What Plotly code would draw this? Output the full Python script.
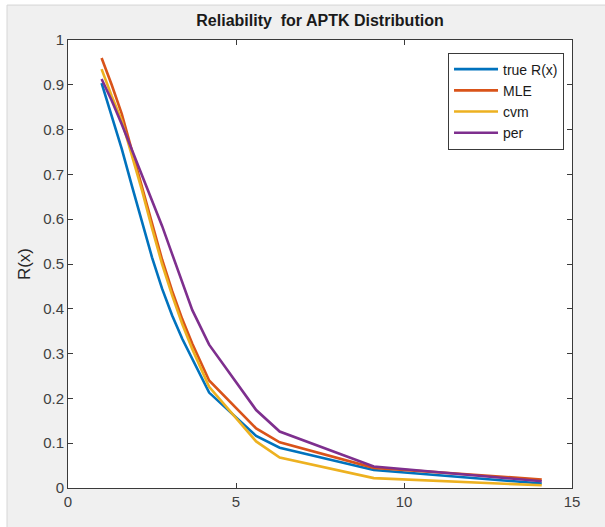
import plotly.graph_objects as go

# Evaluation points of the reliability curves
x_points = [1.0, 1.3, 1.6, 1.9, 2.2, 2.5, 2.8, 3.1, 3.4, 3.7, 4.2, 5.6, 6.3, 9.1, 14.1]

# Reliability estimates for each method
r_true = [0.904, 0.83, 0.757, 0.675, 0.592, 0.515, 0.445, 0.385, 0.333, 0.287, 0.213,
          0.116, 0.09, 0.04, 0.01]
r_mle = [0.960, 0.90, 0.835, 0.755, 0.675, 0.59, 0.51, 0.44, 0.377, 0.322, 0.240,
         0.133, 0.102, 0.045, 0.019]
r_cvm = [0.935, 0.875, 0.82, 0.745, 0.665, 0.58, 0.50, 0.43, 0.366, 0.31, 0.226,
         0.104, 0.068, 0.022, 0.006]
r_per = [0.913, 0.865, 0.812, 0.755, 0.70, 0.645, 0.585, 0.522, 0.458, 0.397, 0.32,
         0.174, 0.126, 0.048, 0.015]

series_names = ["true R(x)", "MLE", "cvm", "per"]
series_colors = ["#0072BD", "#D95319", "#EDB120", "#7E2F8E"]
series_values = [r_true, r_mle, r_cvm, r_per]

x_ticks = [0, 5, 10, 15]
y_ticks = [0, 0.1, 0.2, 0.3, 0.4, 0.5, 0.6, 0.7, 0.8, 0.9, 1]
y_tick_text = ["0", "0.1", "0.2", "0.3", "0.4", "0.5", "0.6", "0.7", "0.8", "0.9", "1"]

fig = go.Figure()
for name, color, vals in zip(series_names, series_colors, series_values):
    fig.add_trace(go.Scatter(
        x=x_points, y=vals, mode="lines", name=name,
        line=dict(color=color, width=2.6),
    ))

axis_common = dict(
    showline=True, linecolor="#3a3a3a", linewidth=1,
    mirror="ticks", ticks="inside", ticklen=5, tickcolor="#3a3a3a",
    showgrid=False, zeroline=False,
    tickfont=dict(family="Liberation Sans, Arial", size=15, color="#404040"),
)

fig.update_xaxes(range=[0, 15], tickvals=x_ticks, **axis_common)
fig.update_yaxes(range=[0, 1], tickvals=y_ticks, ticktext=y_tick_text,
                 title=dict(text="R(x)", standoff=8,
                            font=dict(family="Liberation Sans, Arial", size=17, color="#262626")),
                 **axis_common)

fig.update_layout(
    width=605, height=527,
    margin=dict(l=68, r=33, t=40, b=39),
    paper_bgcolor="white",
    plot_bgcolor="white",
    title=dict(text="<b>Reliability  for APTK Distribution</b>", x=0.5, xref="paper",
               y=0.962, yanchor="middle",
               font=dict(family="Liberation Sans, Arial", size=16, color="#1a1a1a")),
    legend=dict(x=0.754, y=0.972, xanchor="left", yanchor="top",
                bgcolor="white", bordercolor="#3a3a3a", borderwidth=1,
                font=dict(family="Liberation Sans, Arial", size=14, color="#1a1a1a"),
                itemwidth=44, tracegroupgap=0),
    showlegend=True,
    shapes=[
        # gray figure panel
        dict(type="rect", xref="paper", yref="paper", layer="below",
             x0=-0.121, x1=1.07, y0=-0.09, y1=1.078,
             fillcolor="#f0f0f0", line=dict(color="#d6d6d6", width=1)),
        # white axes area
        dict(type="rect", xref="paper", yref="paper", layer="below",
             x0=0, x1=1, y0=0, y1=1, fillcolor="white", line=dict(width=0)),
    ],
)

fig.write_html("out.html")
